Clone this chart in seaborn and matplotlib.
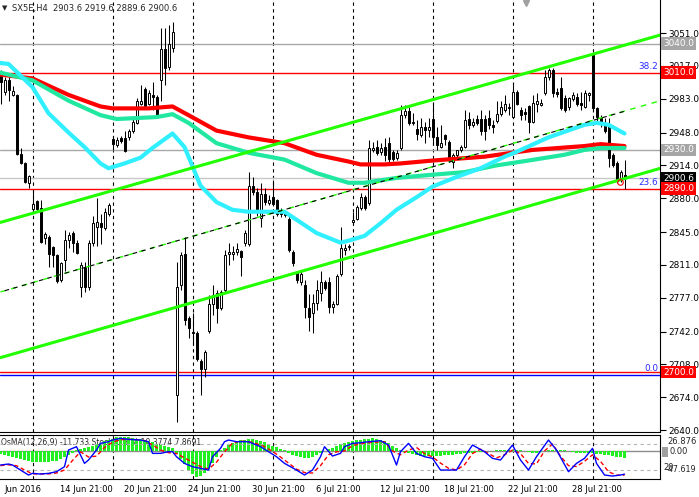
import matplotlib
matplotlib.use('Agg')
import matplotlib.pyplot as plt
import matplotlib.transforms as mtransforms
import numpy as np
import pandas as pd
import seaborn as sns

# H4 candles, SX5E (one value per bar)
OPEN = [3010, 2990, 3002, 2987, 2987, 2926, 2916, 2896, 2869, 2877,
        2870, 2839, 2840, 2829, 2821, 2795, 2816, 2837, 2844, 2834,
        2788, 2809, 2788, 2834, 2850, 2854, 2849, 2864, 2941, 2935,
        2942, 2942, 2943, 2950, 2958, 2978, 2993, 2978, 2987, 2985,
        3002, 3034, 3016, 3036, 2676, 2790, 2822, 2756, 2742, 2741,
        2712, 2703, 2743, 2771, 2782, 2766, 2785, 2822, 2822, 2824,
        2825, 2834, 2833, 2893, 2886, 2860, 2884, 2875, 2881, 2878,
        2866, 2864, 2859, 2824, 2803, 2793, 2790, 2766, 2761, 2772,
        2782, 2793, 2793, 2767, 2771, 2802, 2826, 2829, 2855, 2859,
        2870, 2881, 2875, 2930, 2933, 2928, 2933, 2937, 2928, 2922,
        2932, 2966, 2970, 2959, 2952, 2945, 2954, 2951, 2962, 2943,
        2933, 2945, 2938, 2917, 2925, 2930, 2933, 2962, 2956, 2962,
        2962, 2962, 2963, 2956, 2960, 2967, 2971, 2973, 2964, 2990,
        2971, 2969, 2975, 2959, 2978, 2977, 2989, 3005, 3013, 2990,
        2994, 2984, 2974, 2983, 2985, 2979, 2974, 2987, 3028, 2973,
        2963, 2958, 2956, 2925, 2916, 2899, 2903.6]
HIGH = [3013, 3006, 3005, 2996, 2988, 2932, 2917, 2904, 2888, 2878,
        2878, 2845, 2842, 2831, 2822, 2814, 2847, 2845, 2846, 2837,
        2814, 2814, 2837, 2862, 2880, 2864, 2870, 2875, 2944, 2943,
        2944, 2950, 2952, 2963, 2984, 2997, 2995, 2992, 3000, 2987,
        3056, 3056, 3059, 3062, 2814, 2824, 2840, 2758, 2761, 2743,
        2714, 2723, 2780, 2790, 2785, 2785, 2826, 2834, 2831, 2834,
        2826, 2847, 2907, 2902, 2891, 2896, 2891, 2883, 2899, 2879,
        2870, 2867, 2862, 2826, 2805, 2805, 2795, 2781, 2781, 2795,
        2805, 2795, 2798, 2774, 2802, 2850, 2833, 2833, 2866, 2873,
        2885, 2883, 2940, 2938, 2940, 2937, 2942, 2943, 2930, 2930,
        2976, 2976, 2974, 2968, 2961, 2963, 2959, 2963, 2979, 2954,
        2956, 2947, 2940, 2927, 2930, 2935, 2971, 2969, 2963, 2966,
        2971, 2966, 2971, 2961, 2981, 2981, 2987, 2979, 2997, 2992,
        2974, 2973, 2976, 2987, 2989, 2983, 3013, 3015, 3015, 2994,
        3005, 2987, 2985, 2990, 2989, 2990, 2992, 2990, 3029, 2974,
        2966, 2963, 2963, 2927, 2919, 2909, 2919.6]
LOW = [2978, 2987, 2981, 2986, 2925, 2915, 2896, 2891, 2866, 2868,
       2834, 2833, 2809, 2809, 2792, 2793, 2805, 2828, 2824, 2822,
       2778, 2783, 2785, 2831, 2831, 2833, 2847, 2862, 2930, 2933,
       2937, 2928, 2940, 2948, 2957, 2976, 2973, 2976, 2971, 2964,
       2981, 2997, 3013, 3031, 2648, 2785, 2749, 2735, 2728, 2712,
       2676, 2695, 2740, 2759, 2751, 2764, 2783, 2811, 2816, 2821,
       2800, 2831, 2831, 2883, 2862, 2850, 2873, 2873, 2872, 2862,
       2861, 2861, 2824, 2810, 2792, 2790, 2756, 2743, 2740, 2764,
       2774, 2785, 2761, 2761, 2769, 2800, 2821, 2826, 2852, 2857,
       2868, 2868, 2873, 2928, 2925, 2925, 2919, 2916, 2919, 2920,
       2930, 2963, 2956, 2956, 2940, 2943, 2937, 2943, 2935, 2930,
       2932, 2935, 2917, 2911, 2922, 2928, 2932, 2952, 2954, 2956,
       2945, 2940, 2952, 2948, 2958, 2965, 2969, 2966, 2963, 2976,
       2961, 2961, 2948, 2958, 2969, 2975, 2987, 3002, 2985, 2985,
       2971, 2969, 2971, 2981, 2975, 2971, 2973, 2981, 2971, 2959,
       2954, 2948, 2912, 2912, 2896, 2897, 2889.6]
CLOSE = [3000, 3002, 2992, 2991, 2926, 2916, 2897, 2903, 2874, 2869,
         2835, 2843, 2822, 2821, 2794, 2813, 2837, 2842, 2834, 2823,
         2811, 2788, 2834, 2854, 2855, 2850, 2866, 2873, 2936, 2940,
         2939, 2929, 2950, 2959, 2981, 2981, 2975, 2989, 2985, 2966,
         3034, 3015, 3040, 3052, 2788, 2821, 2754, 2746, 2740, 2714,
         2703, 2721, 2771, 2780, 2766, 2783, 2821, 2824, 2824, 2827,
         2819, 2844, 2893, 2886, 2866, 2884, 2876, 2878, 2874, 2864,
         2864, 2863, 2826, 2813, 2795, 2802, 2767, 2757, 2772, 2785,
         2793, 2787, 2767, 2771, 2800, 2828, 2828, 2831, 2857, 2871,
         2881, 2870, 2932, 2932, 2927, 2932, 2925, 2921, 2921, 2927,
         2966, 2970, 2958, 2958, 2947, 2954, 2951, 2954, 2943, 2935,
         2937, 2941, 2921, 2925, 2930, 2933, 2961, 2956, 2959, 2958,
         2950, 2950, 2956, 2954, 2967, 2974, 2978, 2974, 2990, 2978,
         2966, 2967, 2959, 2979, 2981, 2979, 3005, 3013, 2989, 2988,
         2973, 2971, 2984, 2987, 2978, 2976, 2989, 2989, 2973, 2964,
         2958, 2950, 2922, 2914, 2898, 2907, 2900.6]

# moving averages, read at bar positions
RED_IDX = [0, 8, 17, 25, 28, 37, 43, 47, 54, 62, 71, 79, 87, 90, 96, 100, 108, 121, 133, 146, 150, 156]
RED_VAL = [3008, 3004, 2987, 2975, 2973, 2973, 2975, 2966, 2950, 2943, 2937, 2925, 2918, 2915, 2915,
           2916, 2919, 2923, 2930, 2934, 2936, 2934]
TEAL_IDX = [0, 8, 17, 25, 29, 39, 43, 47, 54, 62, 71, 79, 87, 91, 99, 107, 116, 124, 132, 141, 146, 150, 156]
TEAL_VAL = [3010, 3002, 2981, 2966, 2962, 2964, 2967, 2958, 2937, 2927, 2920, 2906, 2896, 2896, 2901,
            2904, 2907, 2914, 2919, 2925, 2930, 2932, 2932]
CYAN_IDX = [0, 2, 5, 8, 12, 17, 21, 25, 27, 31, 35, 38, 43, 46, 50, 54, 58, 62, 71, 75, 79, 85, 87, 91,
            95, 99, 104, 108, 114, 120, 126, 129, 137, 146, 149, 152, 156]
CYAN_VAL = [3020, 3019, 3007, 2995, 2968, 2948, 2933, 2916, 2911, 2916, 2922, 2932, 2947, 2933, 2893,
            2876, 2868, 2866, 2866, 2855, 2844, 2834, 2836, 2841, 2854, 2868, 2881, 2892, 2902, 2911,
            2923, 2928, 2943, 2956, 2958, 2956, 2947]

# trend channel (end points)
CHANNEL_IDX = [0, 165]
CHANNEL_UP = [2855, 3049]
CHANNEL_MID = [2783, 2981]
CHANNEL_LOW = [2715, 2911]
MID_BLACK_IDX = [0, 156]
MID_BLACK = [2783, 2970]

GRAY_LEVELS = [3040, 2930]
RED_LEVELS = [3010, 2890, 2700]
BID = 2900.6
FIB_ZERO = 2697.5
FIB_LABELS = [('38.2', 3016), ('23.6', 2896.5), ('0.0', 2704)]
PRICE_TICKS = [3051, 3017, 2983, 2948, 2914, 2880, 2845, 2811, 2777, 2742, 2708, 2674, 2640]
PRICE_BOXES = [('3040.0', 3040, '#A6A6A6'), ('3010.0', 3010, '#FF0000'), ('2930.0', 2930, '#A6A6A6'),
               ('2900.6', 2900.6, '#000000'), ('2890.0', 2890, '#FF0000'), ('2700.0', 2700, '#FF0000')]

GRID_IDX = [8, 28, 48, 68, 88, 108, 128, 148]
LABEL_IDX = [1, 15, 31, 47, 63, 79, 95, 111, 127, 143]
LABELS = ['Jun 2016', '14 Jun 21:00', '20 Jun 21:00', '24 Jun 21:00', '30 Jun 21:00', '6 Jul 21:00',
          '12 Jul 21:00', '18 Jul 21:00', '22 Jul 21:00', '28 Jul 21:00']

# OsMA(12,26,9) histogram, one value per bar
OSMA = [-4, -6, -8, -10, -12, -14, -16, -18, -19, -20,
        -20, -20, -19, -18, -17, -14, -10, -6, -2, 2,
        4, 6, 8, 10, 13, 16, 19, 22, 24, 26,
        27, 27, 26, 25, 24, 23, 21, 19, 17, 14,
        12, 10, 8, 6, -5, -14, -24, -34, -42, -47.6,
        -46, -40, -32, -22, -10, 2, 7, 12, 16, 19,
        21, 22, 23, 23, 22, 20, 17, 14, 11, 8,
        5, 2, -3, -6, -9, -11, -12, -12, -10, -7,
        -3, 1, 4, 7, 10, 13, 15, 17, 19, 21,
        22, 23, 24, 25, 24, 22, 19, 15, 11, 7,
        3, -1, -3, -5, -7, -8, -9, -9, -9, -8,
        -8, -7, -7, -6, -5, -4, -3, -2, -2, -1,
        -1, 0.5, 1, 1.5, 2, 2.5, 3, 3, 3, 2.5,
        2, 1, -1, -2, -2, -1, 1, 2.5, 3, 3.5,
        3, 2, 1, -1, -2, -2.5, -3, -3, -3.5, -4,
        -5, -6, -7, -8, -9.5, -10.7, -11.733]

# Stochastic(5,3,3)
STOCH_IDX = [0, 2, 3, 5, 7, 8, 10, 12, 14, 16, 17, 19, 21, 22, 24, 25, 27, 28, 30, 32, 35, 37, 38, 40,
             42, 43, 44, 46, 48, 50, 52, 53, 55, 56, 57, 59, 62, 65, 67, 69, 71, 74, 76, 78, 80, 81, 83,
             85, 86, 88, 90, 92, 95, 97, 99, 100, 102, 104, 106, 108, 110, 112, 114, 116, 118, 121, 123,
             125, 128, 130, 132, 134, 137, 139, 142, 144, 146, 148, 149, 151, 153, 155, 156]
STOCH_MAIN = [31.5, 33.8, 31.5, 19.9, 8.4, 12.2, 10.7, 12.2, 16.1, 27.6, 66.1, 73.8, 35.3, 43, 66.1,
              81.5, 85.3, 89.2, 93, 90.7, 89.2, 85.3, 58.4, 58.4, 62.3, 62.3, 50.7, 35.3, 27.6, 23.8,
              19.9, 50.7, 70, 85.3, 89.2, 85.3, 85.3, 73.8, 62.3, 50.7, 35.3, 19.9, 8.4, 19.9, 50.7,
              73.8, 52.2, 58.4, 73.8, 81.5, 83, 85.3, 87.7, 77.6, 31.5, 62.3, 81.5, 58.4, 50.7, 46.9,
              19.9, 19.9, 19.9, 50.7, 77.6, 62.3, 46.9, 43, 77.6, 43, 19.9, 50.7, 89.2, 66.1, 16.1,
              35.3, 46.9, 70, 35.3, 8.4, 6.0, 8.4, 10.4]
SIG_IDX = [0, 2, 4, 6, 8, 10, 12, 14, 16, 18, 20, 22, 24, 26, 28, 30, 33, 36, 38, 40, 42, 44, 46, 48,
           50, 52, 54, 56, 58, 60, 63, 66, 68, 70, 72, 74, 76, 78, 80, 82, 84, 86, 88, 90, 93, 96, 98,
           100, 102, 104, 106, 108, 110, 112, 114, 116, 118, 120, 122, 124, 126, 128, 130, 132, 134,
           136, 138, 140, 142, 144, 146, 148, 150, 152, 154, 156]
STOCH_SIG = [30, 32, 30, 20, 11, 11, 11, 13, 20, 42, 62, 50, 52, 72, 84, 90, 91, 88, 78, 66, 60, 58,
             48, 38, 28, 22, 38, 62, 82, 87, 84, 74, 63, 50, 36, 22, 14, 13, 30, 55, 62, 64, 76, 81,
             84, 85, 64, 55, 66, 72, 58, 50, 36, 24, 20, 32, 58, 68, 58, 48, 55, 66, 58, 35, 34, 64,
             80, 52, 30, 28, 40, 55, 40, 16, 8, 7.9]

W, H = 699, 497
MAIN_BOTTOM, SUB_TOP, SUB_BOTTOM, PLOT_RIGHT = 432, 435, 479, 660
XLIM = (-0.125, 164.875)


def draw_candles(ax):
    idx = np.arange(len(OPEN))
    o = np.array(OPEN)
    c = np.array(CLOSE)
    ax.vlines(idx, LOW, HIGH, color='black', linewidth=0.75, zorder=3)
    bottom = np.minimum(o, c)
    height = np.maximum(np.abs(c - o), 0.9)
    colors = ['white' if cc >= oo else 'black' for oo, cc in zip(o, c)]
    ax.bar(idx, height, bottom=bottom, width=0.5, color=colors, edgecolor='black', linewidth=0.7, zorder=3.5)


def main():
    sns.set_style('white')
    plt.rcParams['font.family'] = ['DejaVu Sans']

    fig = plt.figure(figsize=(W / 100, H / 100), dpi=100)
    ax = fig.add_axes([0, 1 - MAIN_BOTTOM / H, PLOT_RIGHT / W, MAIN_BOTTOM / H])
    sub = fig.add_axes([0, 1 - SUB_BOTTOM / H, PLOT_RIGHT / W, (SUB_BOTTOM - SUB_TOP) / H])

    # ---- main price window
    ax.set_xlim(*XLIM)
    ax.set_ylim(2638.0, 3085.2)
    for gi in GRID_IDX:
        ax.axvline(gi, color='black', linewidth=0.8, linestyle=(0, (3, 3)), zorder=1)
        sub.axvline(gi, color='black', linewidth=0.8, linestyle=(0, (3, 3)), zorder=1)
    for lv in GRAY_LEVELS:
        ax.axhline(lv, color='#A8A8A8', linewidth=1, zorder=1.5)
    ax.axhline(BID, color='#C8C8C8', linewidth=1, zorder=1.5)
    for lv in RED_LEVELS:
        ax.axhline(lv, color='#FF0000', linewidth=1, zorder=1.6)
    ax.axhline(FIB_ZERO, color='#0000FF', linewidth=1, zorder=1.6)

    draw_candles(ax)

    sns.lineplot(x=RED_IDX, y=RED_VAL, ax=ax, color='#FF0000', linewidth=3, zorder=4)
    sns.lineplot(x=TEAL_IDX, y=TEAL_VAL, ax=ax, color='#20E8A0', linewidth=3, zorder=4)
    sns.lineplot(x=CYAN_IDX, y=CYAN_VAL, ax=ax, color='#30F0FF', linewidth=3, zorder=4.2)

    sns.lineplot(x=CHANNEL_IDX, y=CHANNEL_UP, ax=ax, color='#22FF00', linewidth=2.2, zorder=5)
    sns.lineplot(x=CHANNEL_IDX, y=CHANNEL_LOW, ax=ax, color='#22FF00', linewidth=2.2, zorder=5)
    sns.lineplot(x=CHANNEL_IDX, y=CHANNEL_MID, ax=ax, color='#22FF00', linewidth=1,
                 linestyle=(0, (4, 4)), zorder=5)
    sns.lineplot(x=MID_BLACK_IDX, y=MID_BLACK, ax=ax, color='black', linewidth=0.8,
                 linestyle=(4, (4, 4)), zorder=5)

    ax.plot([154.8], [2896.5], marker='o', mfc='none', mec='#FF0000', ms=4, mew=0.8, zorder=6)

    ax.yaxis.tick_right()
    ax.set_yticks(PRICE_TICKS)
    ax.set_yticklabels([f'{t:.1f}' for t in PRICE_TICKS])
    ax.tick_params(axis='y', direction='out', length=4, width=0.8, labelsize=6.4, pad=2, colors='black')
    ax.set_xticks([])
    ax.set_xlabel('')
    ax.set_ylabel('')
    for side in ['top', 'left']:
        ax.spines[side].set_visible(False)
    for side in ['right', 'bottom']:
        ax.spines[side].set_color('black')
        ax.spines[side].set_linewidth(0.8)

    tr = mtransforms.blended_transform_factory(ax.transAxes, ax.transData)
    for text, price, color in PRICE_BOXES:
        ax.text(1 + 3 / PLOT_RIGHT, price, text, transform=tr, fontsize=6.4, color='white', va='center',
                ha='left', zorder=10, clip_on=False,
                bbox=dict(boxstyle='square,pad=0.2', fc=color, ec='none'))
    for text, price in FIB_LABELS:
        ax.text(164.4, price, text, fontsize=6.4, color='#2B2BFF', ha='right', va='center', zorder=6)

    trx = mtransforms.blended_transform_factory(ax.transData, ax.transAxes)
    ax.plot([131.4], [0.994], marker='v', color='#A0A0A0', ms=5, transform=trx, clip_on=False, zorder=7)

    fig.text(2 / W, 1 - 8 / H, '\u25bc', fontsize=5, va='center', ha='left')
    fig.text(12 / W, 1 - 8 / H, 'SX5E,H4  2903.6 2919.6 2889.6 2900.6', fontsize=6, va='center', ha='left')

    # ---- OsMA + Stochastic window
    sub.set_xlim(*XLIM)
    sub.set_ylim(-51.3, 30.6)
    sub.text(0.002, 0.83, 'OsMA(12,26,9) -11.733 Stoch(5,3,3) 10.3774 7.8691', transform=sub.transAxes,
             fontsize=5.5, va='center', ha='left', zorder=0.5)
    sub.bar(np.arange(len(OSMA)), OSMA, width=0.6, color='#22EE22', linewidth=0, zorder=2)
    sub.axhline(0, color='#8C8C8C', linewidth=1, zorder=1.8)

    st = sub.twinx()
    st.set_ylim(-0.8, 100.8)
    st.axhline(80, color='#B4B4B4', linewidth=0.8, linestyle=(0, (3, 3)), zorder=1)
    st.axhline(20, color='#B4B4B4', linewidth=0.8, linestyle=(0, (3, 3)), zorder=1)
    sns.lineplot(x=SIG_IDX, y=STOCH_SIG, ax=st, color='#FF0000', linewidth=1, linestyle=(0, (3, 2)), zorder=3)
    sns.lineplot(x=STOCH_IDX, y=STOCH_MAIN, ax=st, color='#0000FF', linewidth=1, zorder=4)
    st.set_xlim(*XLIM)
    st.set_yticks([])
    st.set_ylabel('')
    for sp in st.spines.values():
        sp.set_visible(False)

    sub.set_yticks([])
    sub.set_ylabel('')
    sub.set_xticks(LABEL_IDX)
    sub.set_xticklabels(LABELS, ha='left')
    sub.tick_params(axis='x', direction='out', length=3, width=0.8, labelsize=6, pad=1, colors='black')
    sub.spines['left'].set_visible(False)
    for side in ['top', 'right', 'bottom']:
        sub.spines[side].set_color('black')
        sub.spines[side].set_linewidth(0.8)

    fig.text(667 / W, 1 - 442 / H, '26.876', fontsize=6.0, va='center', ha='left')
    fig.patches.append(plt.Rectangle((662 / W, 1 - 457 / H), 6 / W, 10 / H, transform=fig.transFigure,
                                     facecolor='#A0A0A0', edgecolor='none'))
    fig.text(669 / W, 1 - 452 / H, '0.00', fontsize=6.0, va='center', ha='left')
    fig.text(663 / W, 1 - 468 / H, '20', fontsize=6.0, va='center', ha='left')
    fig.text(666 / W, 1 - 470 / H, '-47.619', fontsize=5.8, va='center', ha='left')

    fig.savefig('out.png', dpi=100)


if __name__ == '__main__':
    main()
